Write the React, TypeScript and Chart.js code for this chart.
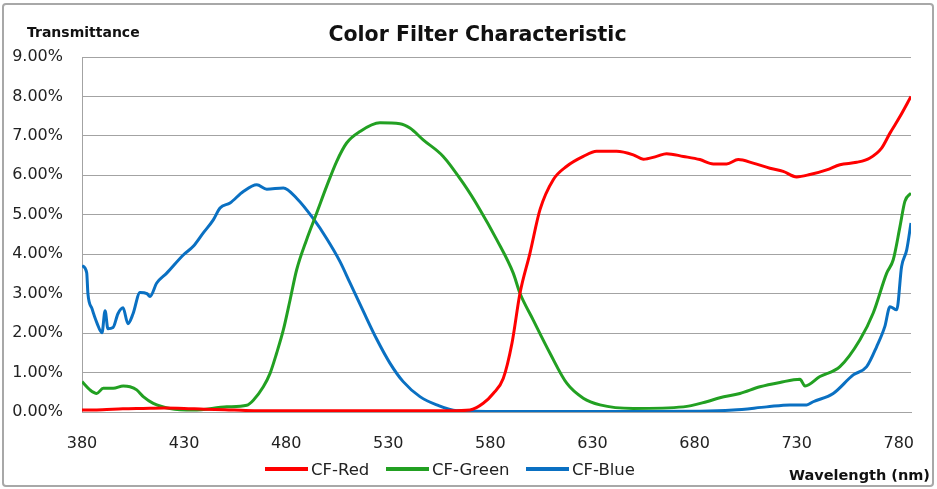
import React, { useEffect, useRef } from "react";
import { Chart, registerables } from "chart.js";

Chart.register(...registerables);

const chartTitle = "Color Filter Characteristic";
const yAxisTitle = "Transmittance";
const xAxisTitle = "Wavelength (nm)";
const xTickValues = [380, 430, 480, 530, 580, 630, 680, 730, 780];
const yTickValues = [0, 1, 2, 3, 4, 5, 6, 7, 8, 9];

const redNm = [380, 390, 400, 410, 420, 430, 440, 450, 460, 480, 500, 520, 540, 560, 570, 576.5, 581.4, 586.3, 590.6, 594.5, 599.4, 604.3, 610.8, 617.4, 625.5, 632, 641.8, 650, 654.9, 661.4, 666.3, 674.5, 682.6, 689.2, 695.7, 701.4, 708.7, 716.9, 723.4, 730, 736.5, 744.7, 751.2, 759.4, 765.9, 771.6, 775.7, 780.6, 786];
const redPct = [0.05, 0.06, 0.08, 0.09, 0.1, 0.09, 0.07, 0.06, 0.04, 0.03, 0.03, 0.03, 0.03, 0.03, 0.05, 0.22, 0.47, 0.85, 1.75, 3.01, 4.03, 5.13, 5.89, 6.23, 6.48, 6.61, 6.61, 6.52, 6.41, 6.48, 6.55, 6.48, 6.4, 6.29, 6.29, 6.4, 6.31, 6.18, 6.1, 5.96, 6.02, 6.14, 6.27, 6.33, 6.44, 6.69, 7.07, 7.49, 8.0];

const greenNm = [380, 383.9, 387.2, 390.4, 395.3, 400.2, 403.5, 406.8, 410, 414.9, 423.1, 434.5, 450.9, 460.7, 463.9, 468.8, 472.1, 475.3, 478.6, 481.9, 485.1, 490, 494.9, 499.8, 504.7, 509.6, 516.1, 525.9, 535.7, 540.6, 547.1, 556.9, 566.7, 574.9, 583.1, 591.2, 594.5, 601, 609.2, 617.4, 625.5, 633.7, 650, 674.5, 685.9, 692.4, 702.2, 712, 721.8, 731.6, 734.1, 741.4, 751.2, 761, 767.5, 774.1, 777.3, 780.6, 783, 786];
const greenPct = [0.77, 0.56, 0.47, 0.6, 0.6, 0.66, 0.64, 0.56, 0.39, 0.22, 0.09, 0.05, 0.13, 0.17, 0.3, 0.64, 0.98, 1.49, 2.08, 2.84, 3.6, 4.37, 5.04, 5.72, 6.35, 6.82, 7.11, 7.33, 7.31, 7.2, 6.9, 6.48, 5.8, 5.13, 4.37, 3.52, 3.01, 2.33, 1.49, 0.73, 0.35, 0.18, 0.09, 0.13, 0.26, 0.36, 0.47, 0.64, 0.75, 0.83, 0.66, 0.9, 1.15, 1.83, 2.51, 3.52, 3.86, 4.7, 5.34, 5.55];

const blueNm = [380, 382.3, 382.9, 384.9, 387.3, 389.8, 391.3, 392.7, 395.2, 397.6, 400.1, 402.5, 405, 408.4, 411.8, 413.3, 416.6, 421.5, 429.6, 434.5, 439.4, 444.3, 447.6, 452.5, 459, 465.6, 470.5, 478.6, 485.1, 493.3, 499.8, 506.3, 511.2, 517.8, 524.3, 530.8, 537.3, 545.5, 553.7, 563.5, 584.7, 633.7, 682.6, 698.9, 715.3, 726.7, 734.9, 738.1, 747.9, 757.7, 764.3, 769.2, 773.2, 775.7, 779, 781.4, 783.9, 786];
const bluePct = [3.71, 3.53, 3.0, 2.62, 2.26, 2.01, 2.57, 2.11, 2.14, 2.49, 2.64, 2.24, 2.49, 3.03, 3.0, 2.93, 3.27, 3.52, 3.98, 4.2, 4.54, 4.87, 5.17, 5.3, 5.59, 5.76, 5.65, 5.68, 5.42, 4.9, 4.4, 3.82, 3.28, 2.55, 1.85, 1.24, 0.77, 0.39, 0.18, 0.03, 0.01, 0.01, 0.02, 0.05, 0.13, 0.18, 0.18, 0.26, 0.47, 0.94, 1.15, 1.66, 2.17, 2.67, 2.59, 3.69, 4.11, 4.79];

const seriesNames = ["CF-Red", "CF-Green", "CF-Blue"];
const seriesColors = ["#ff0000", "#22a022", "#0a70c2"];

const pts = (xs: number[], ys: number[]) => xs.map((x, i) => ({ x, y: ys[i] }));

const tickFont = { family: "'DejaVu Sans', Verdana, sans-serif", size: 16 };
const gridColor = "#a3a3a3";
const legendLeft = [265, 386, 526];

export default function App() {
  const canvasRef = useRef<HTMLCanvasElement | null>(null);

  useEffect(() => {
    document.body.style.margin = "0";
    const canvas = canvasRef.current;
    if (!canvas) return;
    const chart = new Chart(canvas, {
      type: "scatter",
      data: {
        datasets: [
          { label: seriesNames[0], data: pts(redNm, redPct) },
          { label: seriesNames[1], data: pts(greenNm, greenPct) },
          { label: seriesNames[2], data: pts(blueNm, bluePct) },
        ].map((d, i) => ({
          ...d,
          showLine: true,
          borderColor: seriesColors[i],
          backgroundColor: seriesColors[i],
          borderWidth: 3,
          pointRadius: 0,
          cubicInterpolationMode: "monotone" as const,
        })),
      },
      options: {
        responsive: false,
        animation: false,
        devicePixelRatio: 1,
        layout: { padding: { top: 57, right: 26, bottom: 0, left: 0 } },
        plugins: {
          legend: { display: false },
          title: { display: false },
          tooltip: { enabled: false },
        },
        scales: {
          x: {
            type: "linear",
            min: 380,
            max: 786,
            afterBuildTicks: (axis: any) => {
              axis.ticks = xTickValues.map((v) => ({ value: v }));
            },
            afterFit: (scale: any) => {
              scale.height = 77;
            },
            grid: { display: false, drawTicks: false },
            border: { display: true, color: gridColor, width: 1 },
            ticks: {
              font: tickFont,
              color: "#222",
              padding: 22,
              maxRotation: 0,
              autoSkip: false,
              callback: (v: any) => String(v),
            },
          },
          y: {
            min: 0,
            max: 9,
            afterBuildTicks: (axis: any) => {
              axis.ticks = yTickValues.map((v) => ({ value: v }));
            },
            afterFit: (scale: any) => {
              scale.width = 82;
            },
            grid: { color: gridColor, lineWidth: 1, drawTicks: false },
            border: { display: true, color: gridColor, width: 1 },
            ticks: {
              font: tickFont,
              color: "#222",
              padding: 19,
              callback: (v: any) => Number(v).toFixed(2) + "%",
            },
          },
        },
      },
    });
    return () => chart.destroy();
  }, []);

  return (
    <div style={{ position: "relative", width: 937, height: 489, background: "#fff", overflow: "hidden" }}>
      <div
        style={{
          position: "absolute",
          left: 2,
          top: 3,
          width: 932,
          height: 484,
          boxSizing: "border-box",
          border: "2px solid #a8a8a8",
          borderRadius: 4,
        }}
      />
      <canvas ref={canvasRef} width={937} height={489} style={{ position: "absolute", left: 0, top: 0 }} />
      <div
        style={{
          position: "absolute",
          left: 0,
          width: 955,
          top: 21,
          textAlign: "center",
          font: "bold 20.5px 'DejaVu Sans', sans-serif",
          color: "#111",
          lineHeight: "26px",
          whiteSpace: "nowrap",
        }}
      >
        {chartTitle}
      </div>
      <div
        style={{
          position: "absolute",
          left: 27,
          top: 23,
          font: "bold 14px 'DejaVu Sans', sans-serif",
          color: "#111",
          lineHeight: "18px",
        }}
      >
        {yAxisTitle}
      </div>
      <div
        style={{
          position: "absolute",
          right: 7,
          top: 466,
          font: "bold 14.5px 'DejaVu Sans', sans-serif",
          color: "#111",
          lineHeight: "18px",
          whiteSpace: "nowrap",
        }}
      >
        {xAxisTitle}
      </div>
      {seriesNames.map((name, i) => (
        <div
          key={name}
          style={{
            position: "absolute",
            left: legendLeft[i],
            top: 459,
            height: 20,
            display: "flex",
            alignItems: "center",
            font: "16.5px 'DejaVu Sans', sans-serif",
            color: "#222",
            whiteSpace: "nowrap",
          }}
        >
          <span style={{ display: "inline-block", width: 43, height: 4, background: seriesColors[i], marginRight: 3 }} />
          <span>{name}</span>
        </div>
      ))}
    </div>
  );
}
